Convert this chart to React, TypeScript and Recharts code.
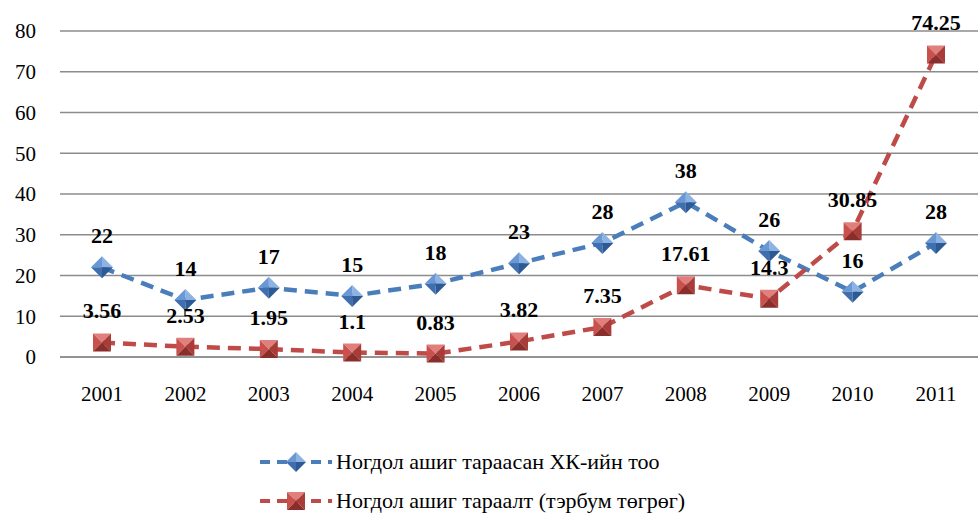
import { LineChart, Line, XAxis, YAxis, CartesianGrid, LabelList } from 'recharts';

const years = ['2001', '2002', '2003', '2004', '2005', '2006', '2007', '2008', '2009', '2010', '2011'];
const companies = [22, 14, 17, 15, 18, 23, 28, 38, 26, 16, 28];
const dividends = [3.56, 2.53, 1.95, 1.1, 0.83, 3.82, 7.35, 17.61, 14.3, 30.85, 74.25];
const yTicks = [0, 10, 20, 30, 40, 50, 60, 70, 80];

const seriesNames = ['Ногдол ашиг тараасан ХК-ийн тоо', 'Ногдол ашиг тараалт (тэрбум төгрөг)'];

const data = years.map((year, i) => ({ year, companies: companies[i], dividends: dividends[i] }));

const FONT = "'Liberation Serif', 'Times New Roman', Times, 'DejaVu Serif', 'Noto Serif', serif";

function Diamond({ cx, cy, size = 11 }: any) {
  if (cx == null || cy == null) return null;
  const s = size;
  return (
    <g>
      <polygon points={`${cx},${cy - s} ${cx + s},${cy} ${cx},${cy}`} fill="#8db3e2" />
      <polygon points={`${cx - s},${cy} ${cx},${cy - s} ${cx},${cy}`} fill="#6a98d4" />
      <polygon points={`${cx - s},${cy} ${cx},${cy + s} ${cx},${cy}`} fill="#3f6fae" />
      <polygon points={`${cx + s},${cy} ${cx},${cy + s} ${cx},${cy}`} fill="#2d5a94" />
    </g>
  );
}

function Square({ cx, cy, size = 9 }: any) {
  if (cx == null || cy == null) return null;
  const s = size;
  return (
    <g>
      <polygon points={`${cx - s},${cy - s} ${cx + s},${cy - s} ${cx},${cy}`} fill="#e07f7c" />
      <polygon points={`${cx - s},${cy - s} ${cx - s},${cy + s} ${cx},${cy}`} fill="#c9514d" />
      <polygon points={`${cx + s},${cy - s} ${cx + s},${cy + s} ${cx},${cy}`} fill="#a83c39" />
      <polygon points={`${cx - s},${cy + s} ${cx + s},${cy + s} ${cx},${cy}`} fill="#8a2e2c" />
    </g>
  );
}

const renderLabel = (props: any) => {
  const { x, y, value } = props;
  return (
    <text x={x} y={y - 24} textAnchor="middle" style={{ fontFamily: FONT }} fontSize={22} fontWeight="bold" fill="#000">
      {value}
    </text>
  );
};

function LegendRow({ color, marker, label }: { color: string; marker: 'd' | 's'; label: string }) {
  return (
    <div style={{ display: 'flex', alignItems: 'center', height: 39 }}>
      <svg width={76} height={24}>
        <line x1={2} y1={12} x2={74} y2={12} stroke={color} strokeWidth={4} strokeDasharray="10 7" />
        {marker === 'd' ? <Diamond cx={38} cy={12} size={10} /> : <Square cx={38} cy={12} size={9} />}
      </svg>
      <span style={{ fontFamily: FONT, fontSize: 22, color: '#000', marginLeft: 2 }}>{label}</span>
    </div>
  );
}

const tickStyle = { fontSize: 21, fill: '#000', style: { fontFamily: FONT } };

export default function App() {
  return (
    <div style={{ position: 'relative', width: 978, height: 514, background: '#fff', fontFamily: FONT }}>
      <style>{`body{margin:0}`}</style>
      <LineChart width={978} height={420} data={data} margin={{ top: 31, right: 0, left: 0, bottom: 0 }}>
        <CartesianGrid vertical={false} stroke="#8c8c8c" strokeWidth={1.5} />
        <XAxis
          dataKey="year"
          height={63}
          padding={{ left: 42, right: 42 }}
          axisLine={{ stroke: '#8c8c8c', strokeWidth: 1.5 }}
          tickLine={false}
          tickSize={0}
          tickMargin={29}
          tick={tickStyle}
        />
        <YAxis
          width={60}
          domain={[0, 80]}
          ticks={yTicks}
          axisLine={false}
          tickLine={false}
          tickSize={0}
          tickMargin={24}
          tick={tickStyle}
        />
        <Line
          dataKey="companies"
          name={seriesNames[0]}
          stroke="#4a7ebb"
          strokeWidth={4.5}
          strokeDasharray="13 8"
          dot={<Diamond />}
          activeDot={false}
          isAnimationActive={false}
        >
          <LabelList dataKey="companies" content={renderLabel} />
        </Line>
        <Line
          dataKey="dividends"
          name={seriesNames[1]}
          stroke="#be4b48"
          strokeWidth={4.5}
          strokeDasharray="13 8"
          dot={<Square />}
          activeDot={false}
          isAnimationActive={false}
        >
          <LabelList dataKey="dividends" content={renderLabel} />
        </Line>
      </LineChart>
      <div style={{ position: 'absolute', left: 258, top: 442 }}>
        <LegendRow color="#4a7ebb" marker="d" label={seriesNames[0]} />
        <LegendRow color="#be4b48" marker="s" label={seriesNames[1]} />
      </div>
    </div>
  );
}
